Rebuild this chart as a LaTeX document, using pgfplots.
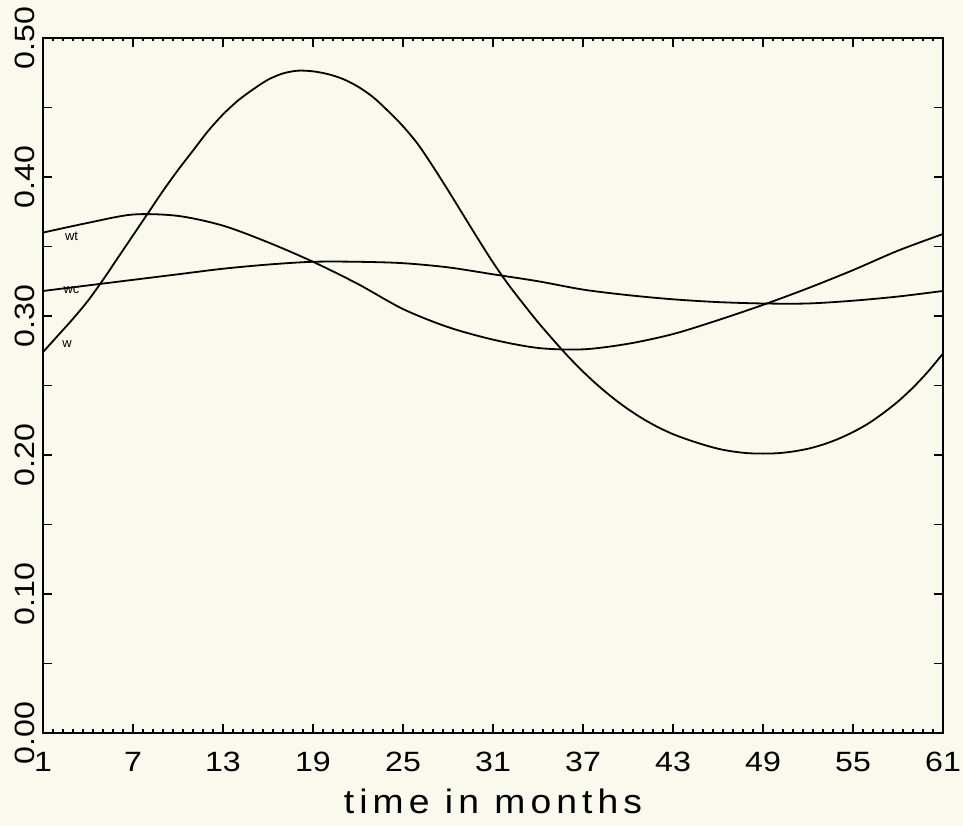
\documentclass[border=0pt]{standalone}
\usepackage{fontspec}
\setmainfont{Liberation Sans}
\newfontfamily\tickfont[FakeStretch=1.15]{Liberation Sans}
\newfontfamily\labfont[FakeStretch=1.1,LetterSpace=15]{Liberation Sans}
\usepackage{pgfplots}
\pgfplotsset{compat=1.18}
\definecolor{paper}{RGB}{249,249,238}

\begin{document}
\begin{tikzpicture}[x=1bp,y=1bp]
\fill[paper] (0,0) rectangle (963,826);
\path[use as bounding box] (0,0) rectangle (963,826);
\begin{axis}[
  at={(43bp,93bp)}, anchor=south west,
  scale only axis, width=900bp, height=695bp,
  xmin=1, xmax=61, ymin=0, ymax=0.5,
  xtick={1,7,...,61},
  ytick={0,0.05,0.1,0.15,0.2,0.25,0.3,0.35,0.4,0.45,0.5},
  yticklabels={0.00,,0.10,,0.20,,0.30,,0.40,,0.50},
  minor x tick num=8,
  tick align=inside,
  major tick length=9bp, minor tick length=3.5bp,
  axis line style={line width=2bp},
  every tick/.style={black, line width=1.1bp},
  tick label style={font=\tickfont\fontsize{28}{28}\selectfont, inner sep=0pt},
  yticklabel style={rotate=90, anchor=south},
  yticklabel shift=8bp,
  xticklabel style={anchor=north},
  xticklabel shift=19bp,
  /pgf/number format/assume math mode=true,
  xlabel={time in months},
  xlabel style={font=\labfont\fontsize{34}{34}\selectfont,
    at={(axis description cs:0.5,0)}, anchor=base, yshift=-81bp},
]
% wt
\addplot[black, line width=1.8bp, smooth] coordinates {
  (1,0.360) (4,0.367) (7,0.373) (10,0.372) (13,0.365) (16,0.353)
  (19,0.339) (22,0.323) (25,0.305) (28,0.292) (31,0.283) (34,0.277)
  (37,0.276) (40,0.280) (43,0.287) (46,0.297) (49,0.308) (52,0.320)
  (55,0.333) (58,0.347) (61,0.359)
};
% wc
\addplot[black, line width=1.8bp, smooth] coordinates {
  (1,0.318) (4,0.322) (7,0.326) (10,0.330) (13,0.334) (16,0.337)
  (19,0.339) (22,0.339) (25,0.338) (28,0.335) (31,0.330) (34,0.325)
  (37,0.319) (40,0.315) (43,0.312) (46,0.310) (49,0.309) (52,0.309)
  (55,0.311) (58,0.314) (61,0.318)
};
% w
\addplot[black, line width=1.8bp, smooth] coordinates {
  (1,0.274) (2,0.286) (3,0.298) (4,0.311) (5,0.326) (6,0.342)
  (7,0.358) (8,0.374) (9,0.390) (10,0.405) (11,0.419) (12,0.433)
  (13,0.445) (14,0.455) (15,0.463) (16,0.470) (17,0.4745) (18,0.4765)
  (19,0.4760) (20,0.4740) (21,0.4705) (22,0.4650) (23,0.4575) (24,0.4475)
  (25,0.4365) (26,0.4235) (27,0.4075) (28,0.3905) (29,0.3730) (30,0.3555)
  (31,0.3385) (32,0.3230) (33,0.3090) (34,0.2955) (35,0.2830) (36,0.2710)
  (37,0.2600) (38,0.2500) (39,0.2410) (40,0.2330) (41,0.2260) (42,0.2200)
  (43,0.2150) (44,0.2110) (45,0.2075) (46,0.2045) (47,0.2025) (48,0.2013)
  (49,0.2010) (50,0.2013) (51,0.2025) (52,0.2045) (53,0.2075) (54,0.2115)
  (55,0.2165) (56,0.2225) (57,0.2300) (58,0.2385) (59,0.2485) (60,0.2600)
  (61,0.2730)
};
\node[font=\fontsize{13}{13}\selectfont] at (axis cs:2.9,0.357) {wt};
\node[font=\fontsize{13}{13}\selectfont] at (axis cs:2.9,0.319) {wc};
\node[font=\fontsize{13}{13}\selectfont] at (axis cs:2.6,0.280) {w};
\end{axis}
\end{tikzpicture}
\end{document}
